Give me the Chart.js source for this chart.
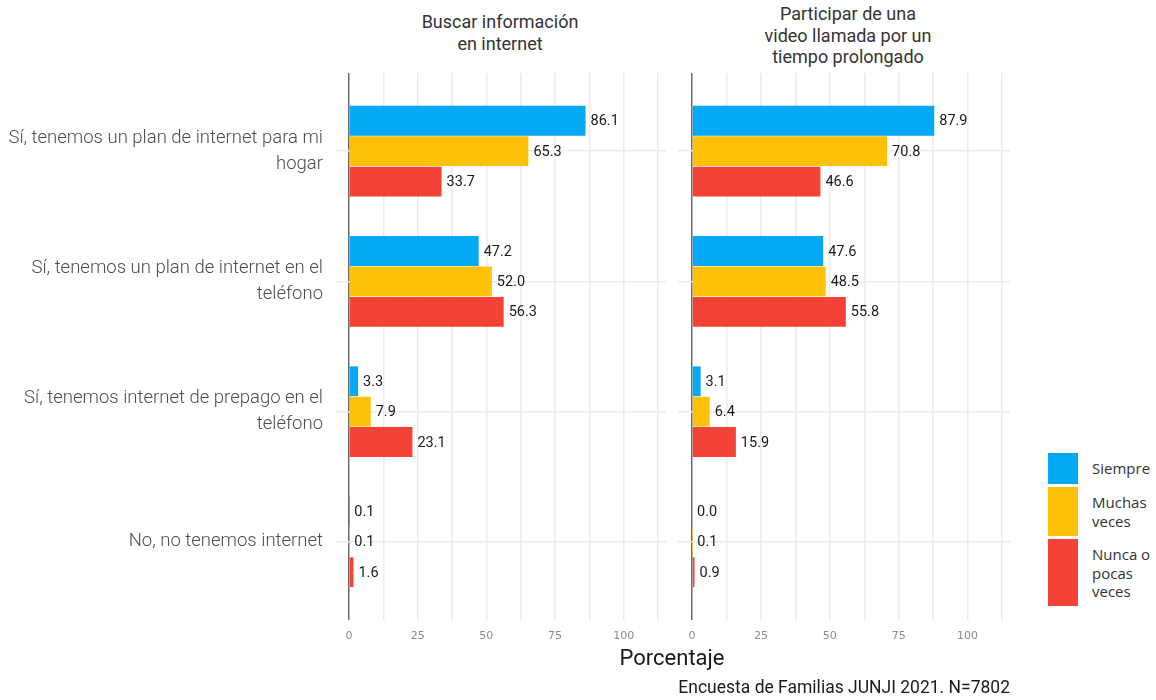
<!DOCTYPE html>
<html>
<head>
<meta charset="utf-8">
<script src="https://cdn.jsdelivr.net/npm/chart.js@4.4.1/dist/chart.umd.min.js"></script>
<style>
  body { margin: 0; background: #fff; width: 1156px; height: 700px; position: relative; overflow: hidden;
         font-family: Roboto, sans-serif; color: #333; }
  .box { position: absolute; }
  .title { position: absolute; text-align: center; font-size: 18px; line-height: 21.5px; color: #333; }
  .legend-item { position: absolute; left: 1048px; display: flex; }
  .legend-item .sw { width: 30px; margin-right: 14px; }
  .legend-item .tx { font-family: 'Open Sans', sans-serif; font-size: 15px; line-height: 18.5px; color: #333; padding-top: 6px; }
</style>
</head>
<body>
<div class="title" style="left:390px;width:220px;top:11px;">Buscar información<br>en internet</div>
<div class="title" style="left:738px;width:220px;top:3px;">Participar de una<br>video llamada por un<br>tiempo prolongado</div>

<div class="box" style="left:0;top:0;width:680px;height:700px;"><canvas id="left"></canvas></div>
<div class="box" style="left:668px;top:0;width:360px;height:700px;"><canvas id="right"></canvas></div>

<div style="position:absolute;left:560px;width:224px;top:645px;text-align:center;font-size:22px;color:#1a1a1a;">Porcentaje</div>
<div style="position:absolute;right:146px;top:677px;font-size:17.5px;color:#1a1a1a;">Encuesta de Familias JUNJI 2021. N=7802</div>

<div id="legend"></div>

<script>
// --- data ---
const categories = [
    ['Sí, tenemos un plan de internet para mi', 'hogar'],
    ['Sí, tenemos un plan de internet en el', 'teléfono'],
    ['Sí, tenemos internet de prepago en el', 'teléfono'],
    'No, no tenemos internet'
];
const seriesNames = ['Siempre', 'Muchas veces', 'Nunca o pocas veces'];
const seriesColors = ['#03A9F4', '#FFC107', '#F44336'];

// Buscar información en internet
const buscarSiempre = [86.1, 47.2, 3.3, 0.1];
const buscarMuchas  = [65.3, 52.0, 7.9, 0.1];
const buscarNunca   = [33.7, 56.3, 23.1, 1.6];

// Participar de una video llamada por un tiempo prolongado
const videoSiempre = [87.9, 47.6, 3.1, 0.0];
const videoMuchas  = [70.8, 48.5, 6.4, 0.1];
const videoNunca   = [46.6, 55.8, 15.9, 0.9];

const xTickLabels = [0, 25, 50, 75, 100];

// value labels at the end of each bar
const valueLabels = {
    id: 'valueLabels',
    afterDatasetsDraw(chart) {
        const ctx = chart.ctx;
        ctx.save();
        ctx.font = '14.5px Roboto, sans-serif';
        ctx.fillStyle = '#1a1a1a';
        ctx.textBaseline = 'middle';
        ctx.textAlign = 'left';
        chart.data.datasets.forEach((ds, i) => {
            chart.getDatasetMeta(i).data.forEach((bar, j) => {
                ctx.fillText(ds.data[j].x.toFixed(1), bar.x + 5, bar.y + 1);
            });
        });
        ctx.restore();
    }
};

function makeChart(id, values, withLabels) {
    const yAxisWidth = withLabels ? 335 : 10;
    return new Chart(document.getElementById(id), {
        type: 'bar',
        data: {
            datasets: values.map((v, i) => ({
                label: seriesNames[i],
                data: v.map((x, k) => ({ x: x, y: k })),
                backgroundColor: seriesColors[i],
                categoryPercentage: 0.7,
                barPercentage: 0.98
            }))
        },
        options: {
            indexAxis: 'y',
            responsive: true,
            maintainAspectRatio: false,
            animation: false,
            layout: { padding: { top: 73, right: withLabels ? 14 : 18, left: 0, bottom: 0 } },
            plugins: { legend: { display: false }, tooltip: { enabled: false } },
            scales: {
                x: {
                    type: 'linear',
                    min: -5.1,
                    max: 115.4,
                    border: { display: false },
                    grid: {
                        drawTicks: false,
                        color: c => c.tick && c.tick.value === 0 ? '#6b6b6b' : '#ebebeb',
                        lineWidth: 1.5
                    },
                    ticks: {
                        stepSize: 12.5,
                        includeBounds: false,
                        autoSkip: false,
                        maxRotation: 0,
                        padding: 10,
                        color: '#8a8a8a',
                        font: { size: 11, family: "'DejaVu Sans', sans-serif" },
                        callback: v => xTickLabels.includes(v) ? String(v) : ''
                    },
                    afterFit: s => { s.height = 80; }
                },
                y: {
                    type: 'linear',
                    reverse: true,
                    offset: false,
                    min: -0.6,
                    max: categories.length - 0.4,
                    border: { display: false },
                    grid: { offset: false, drawTicks: false, color: '#ebebeb', lineWidth: 1.5 },
                    ticks: {
                        display: withLabels,
                        stepSize: 1,
                        includeBounds: false,
                        autoSkip: false,
                        padding: 12,
                        color: '#4d4d4d',
                        font: { size: 18.5, family: 'Roboto, sans-serif', weight: 300, lineHeight: 1.4 },
                        callback: v => Number.isInteger(v) && categories[v] ? categories[v] : ''
                    },
                    afterFit: s => { s.width = yAxisWidth; }
                }
            }
        },
        plugins: [valueLabels]
    });
}

makeChart('left', [buscarSiempre, buscarMuchas, buscarNunca], true);
makeChart('right', [videoSiempre, videoMuchas, videoNunca], false);

// legend
const legendItems = [
    { top: 453, h: 31, lines: ['Siempre'] },
    { top: 487, h: 49, lines: ['Muchas', 'veces'] },
    { top: 539, h: 67, lines: ['Nunca o', 'pocas', 'veces'] }
];
const legend = document.getElementById('legend');
legendItems.forEach((it, i) => {
    legend.insertAdjacentHTML('beforeend',
        `<div class="legend-item" style="top:${it.top}px;height:${it.h}px;">
            <div class="sw" style="background:${seriesColors[i]};height:${it.h}px;"></div>
            <div class="tx">${it.lines.join('<br>')}</div>
        </div>`);
});
</script>
</body>
</html>
